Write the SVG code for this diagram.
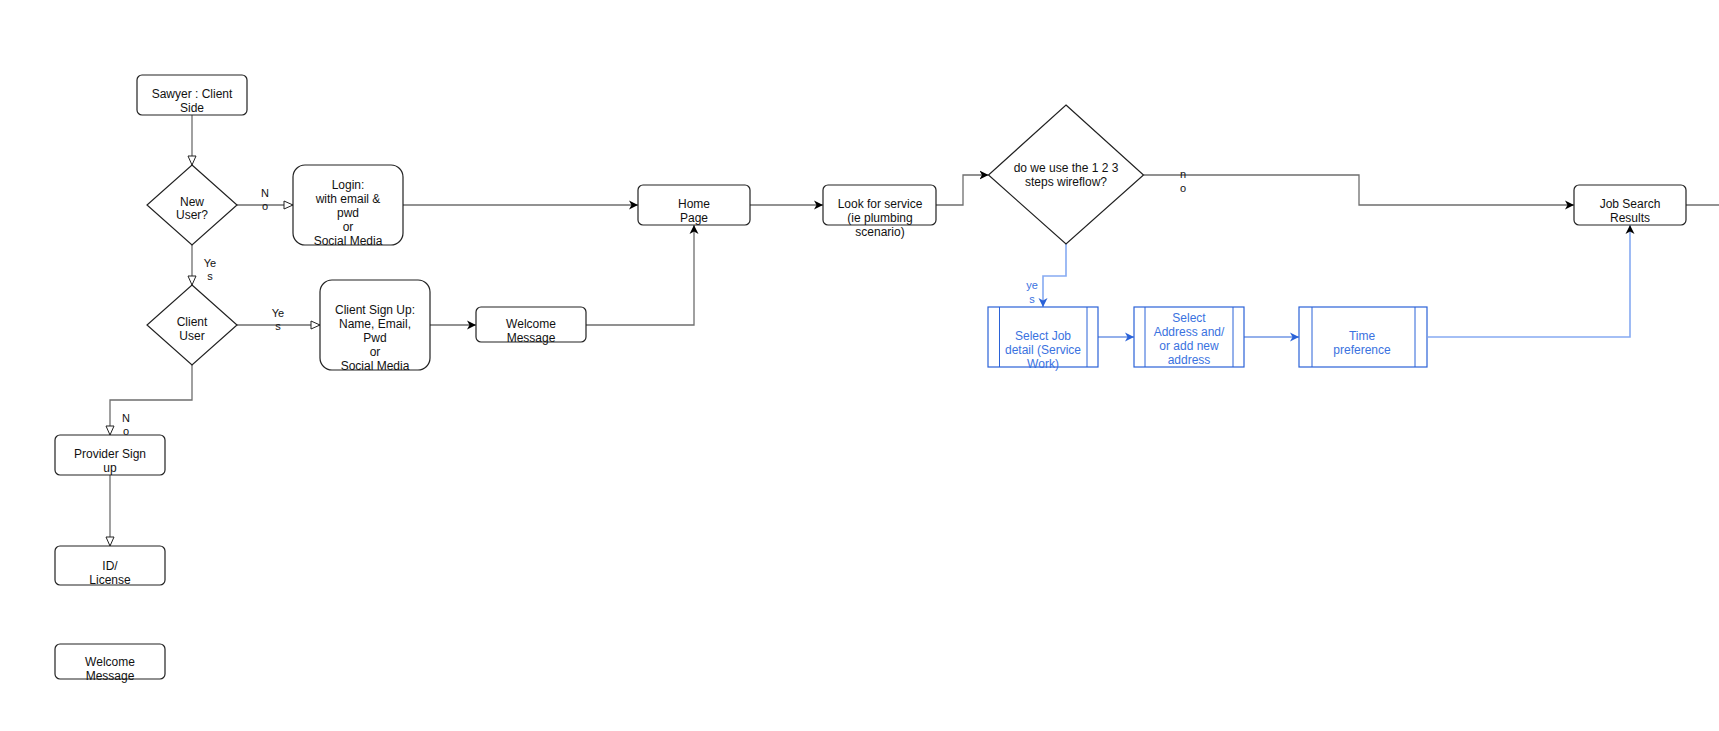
<svg xmlns="http://www.w3.org/2000/svg" width="1719" height="731" viewBox="0 0 1719 731">
<style>
.n{fill:#fff;stroke:#222;stroke-width:1.2}
.b{fill:#fff;stroke:#2a62d8;stroke-width:1.2}
.bi{fill:none;stroke:#2a62d8;stroke-width:1}
.t{font-family:"Liberation Sans",Arial,sans-serif;font-size:12px;fill:#111;text-anchor:middle}
.bt{font-family:"Liberation Sans",Arial,sans-serif;font-size:12px;fill:#3a72e0;text-anchor:middle}
.l{font-family:"Liberation Sans",Arial,sans-serif;font-size:11px;fill:#111;text-anchor:middle}
.bl{font-family:"Liberation Sans",Arial,sans-serif;font-size:11px;fill:#3a72e0;text-anchor:middle}
.c{fill:none;stroke:#6e6e6e;stroke-width:1.3}
.cb{fill:none;stroke:#2a62d8;stroke-width:1.2}
.cl{fill:none;stroke:#86aaf2;stroke-width:1.6}
</style>
<defs>
<marker id="open" markerUnits="userSpaceOnUse" markerWidth="12" markerHeight="12" refX="10" refY="5" orient="auto">
<path d="M1,1 L10,5 L1,9 z" fill="#fff" stroke="#222" stroke-width="1"/>
</marker>
<marker id="fill" markerUnits="userSpaceOnUse" markerWidth="12" markerHeight="12" refX="9" refY="5" orient="auto">
<path d="M0,0.5 L9,5 L0,9.5 L2.5,5 z" fill="#000"/>
</marker>
<marker id="fillb" markerUnits="userSpaceOnUse" markerWidth="12" markerHeight="12" refX="9" refY="5" orient="auto">
<path d="M0,0.5 L9,5 L0,9.5 L2.5,5 z" fill="#2a62d8"/>
</marker>
</defs>
<rect width="1719" height="731" fill="#fff"/>
<g id="connectors">
<path class="c" d="M192,115 V165" marker-end="url(#open)"/>
<path class="c" d="M237,205 H293" marker-end="url(#open)"/>
<path class="c" d="M192,245 V285" marker-end="url(#open)"/>
<path class="c" d="M237,325 H320" marker-end="url(#open)"/>
<path class="c" d="M192,365 V400 H110 V435" marker-end="url(#open)"/>
<path class="c" d="M110,475 V546" marker-end="url(#open)"/>
<path class="c" d="M403,205 H638" marker-end="url(#fill)"/>
<path class="c" d="M430,325 H476" marker-end="url(#fill)"/>
<path class="c" d="M586,325 H694 V225" marker-end="url(#fill)"/>
<path class="c" d="M750,205 H823" marker-end="url(#fill)"/>
<path class="c" d="M936,205 H963 V175 H988.5" marker-end="url(#fill)"/>
<path class="c" d="M1143.5,175 H1359 V205 H1574" marker-end="url(#fill)"/>
<path class="c" d="M1686,205 H1719"/>
<path class="cl" d="M1066,244 V276 H1043 V307" marker-end="url(#fillb)"/>
<path class="cb" d="M1098,337 H1134" marker-end="url(#fillb)"/>
<path class="cb" d="M1244,337 H1299" marker-end="url(#fillb)"/>
<path class="cl" d="M1428,337 H1630 V225" marker-end="url(#fill)"/>
<text class="l" x="265" y="197">N</text><text class="l" x="265" y="210">o</text>
<text class="l" x="210" y="267">Ye</text><text class="l" x="210" y="280">s</text>
<text class="l" x="278" y="317">Ye</text><text class="l" x="278" y="330">s</text>
<text class="l" x="126" y="422">N</text><text class="l" x="126" y="435">o</text>
<text class="l" x="1183" y="178">n</text><text class="l" x="1183" y="191.5">o</text>
<text class="bl" x="1032" y="289">ye</text><text class="bl" x="1032" y="302.5">s</text>
</g>
<g id="sawyer">
<rect class="n" x="137" y="75" width="110" height="40" rx="5"/>
<text class="t" x="192" y="97.5">Sawyer : Client</text><text class="t" x="192" y="111.5">Side</text>
</g>
<g id="new-user">
<path class="n" d="M192,165 L237,205 L192,245 L147,205 z"/>
<text class="t" x="192" y="205.5">New</text><text class="t" x="192" y="219">User?</text>
</g>
<g id="login">
<rect class="n" x="293" y="165" width="110" height="80" rx="12"/>
<text class="t" x="348" y="189">Login:</text><text class="t" x="348" y="202.5">with email &amp;</text><text class="t" x="348" y="216.5">pwd</text><text class="t" x="348" y="230.5">or</text><text class="t" x="348" y="244.5">Social Media</text>
</g>
<g id="client-user">
<path class="n" d="M192,285 L237,325 L192,365 L147,325 z"/>
<text class="t" x="192" y="325.5">Client</text><text class="t" x="192" y="339.5">User</text>
</g>
<g id="client-signup">
<rect class="n" x="320" y="280" width="110" height="90" rx="12"/>
<text class="t" x="375" y="313.5">Client Sign Up:</text><text class="t" x="375" y="327.5">Name, Email,</text><text class="t" x="375" y="341.5">Pwd</text><text class="t" x="375" y="355.5">or</text><text class="t" x="375" y="369.5">Social Media</text>
</g>
<g id="welcome1">
<rect class="n" x="476" y="307" width="110" height="35" rx="5"/>
<text class="t" x="531" y="327.5">Welcome</text><text class="t" x="531" y="341.5">Message</text>
</g>
<g id="provider">
<rect class="n" x="55" y="435" width="110" height="40" rx="5"/>
<text class="t" x="110" y="457.5">Provider Sign</text><text class="t" x="110" y="472">up</text>
</g>
<g id="id-license">
<rect class="n" x="55" y="546" width="110" height="39" rx="5"/>
<text class="t" x="110" y="570">ID/</text><text class="t" x="110" y="583.5">License</text>
</g>
<g id="welcome2">
<rect class="n" x="55" y="644" width="110" height="35" rx="5"/>
<text class="t" x="110" y="666">Welcome</text><text class="t" x="110" y="679.5">Message</text>
</g>
<g id="home">
<rect class="n" x="638" y="185" width="112" height="40" rx="5"/>
<text class="t" x="694" y="208">Home</text><text class="t" x="694" y="222">Page</text>
</g>
<g id="look">
<rect class="n" x="823" y="185" width="113" height="40" rx="5"/>
<text class="t" x="880" y="208">Look for service</text><text class="t" x="880" y="222">(ie plumbing</text><text class="t" x="880" y="236">scenario)</text>
</g>
<g id="wireflow">
<path class="n" d="M1066,105 L1143.5,175 L1066,244 L988.5,175 z"/>
<text class="t" x="1066" y="172">do we use the 1 2 3</text><text class="t" x="1066" y="186">steps wireflow?</text>
</g>
<g id="job-search">
<rect class="n" x="1574" y="185" width="112" height="40" rx="5"/>
<text class="t" x="1630" y="207.5">Job Search</text><text class="t" x="1630" y="221.5">Results</text>
</g>
<g id="select-job">
<rect class="b" x="988" y="307" width="110" height="60"/>
<path class="bi" d="M999.5,307 V367 M1087,307 V367"/>
<text class="bt" x="1043" y="340">Select Job</text><text class="bt" x="1043" y="353.5">detail (Service</text><text class="bt" x="1043" y="367.5">Work)</text>
</g>
<g id="select-address">
<rect class="b" x="1134" y="307" width="110" height="60"/>
<path class="bi" d="M1145,307 V367 M1233,307 V367"/>
<text class="bt" x="1189" y="322">Select</text><text class="bt" x="1189" y="336">Address and/</text><text class="bt" x="1189" y="350">or add new</text><text class="bt" x="1189" y="363.5">address</text>
</g>
<g id="time-pref">
<rect class="b" x="1299" y="307" width="128" height="60"/>
<path class="bi" d="M1312,307 V367 M1415,307 V367"/>
<text class="bt" x="1362" y="340">Time</text><text class="bt" x="1362" y="353.5">preference</text>
</g>
</svg>
